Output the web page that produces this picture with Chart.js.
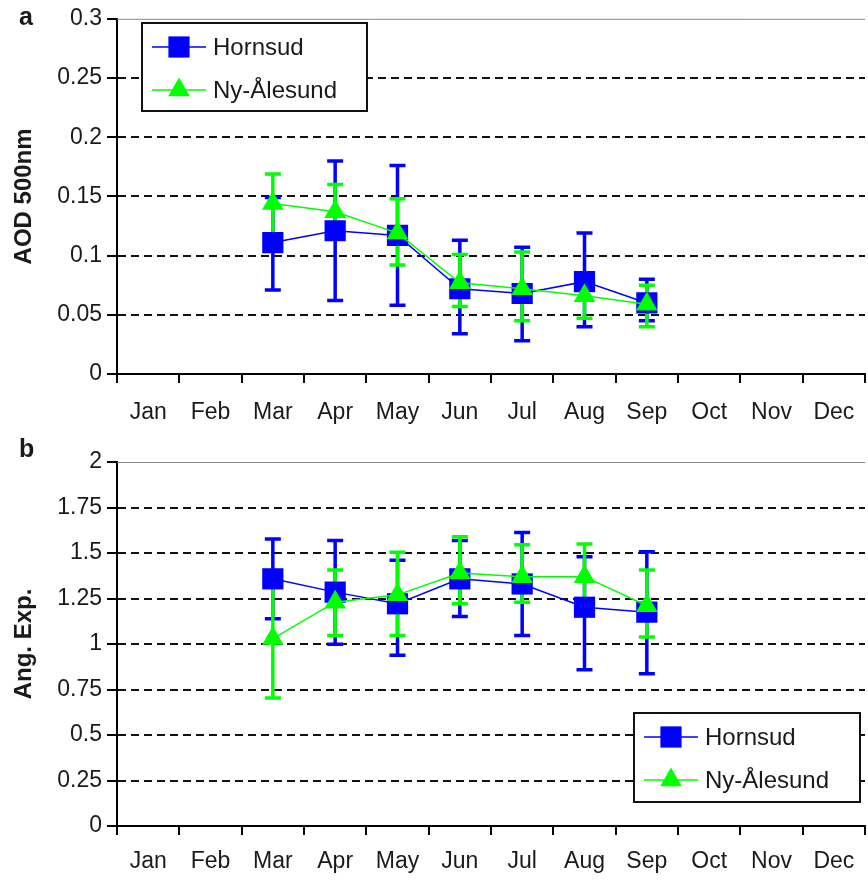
<!DOCTYPE html>
<html>
<head>
<meta charset="utf-8">
<script src="https://cdn.jsdelivr.net/npm/chart.js@4.4.1/dist/chart.umd.min.js"></script>
<style>
  html, body { margin: 0; padding: 0; background: #fff; overflow: hidden; }
  #wrap { position: relative; width: 880px; height: 883px; }
  canvas { position: absolute; left: 0; }
  #aod { top: 0; }
  #ang { top: 440px; }
  .panel { position: absolute; font: bold 25px "Liberation Sans", Arial, sans-serif; color: #1a1a1a; }
</style>
</head>
<body>
<div id="wrap">
  <canvas id="aod" width="880" height="440"></canvas>
  <canvas id="ang" width="880" height="443"></canvas>
  <div class="panel" style="left:19px; top:2px;">a</div>
  <div class="panel" style="left:19px; top:434px;">b</div>
</div>
<script>
const months = ['Jan', 'Feb', 'Mar', 'Apr', 'May', 'Jun', 'Jul', 'Aug', 'Sep', 'Oct', 'Nov', 'Dec'];
const stations = ['Hornsud', 'Ny-Ålesund'];

// panel a: AOD at 500 nm, monthly mean and error bar ends
const hornAod   = [null, null, 0.111, 0.121, 0.117, 0.072, 0.068, 0.078, 0.060, null, null, null];
const hornAodHi = [null, null, 0.149, 0.180, 0.176, 0.113, 0.107, 0.119, 0.080, null, null, null];
const hornAodLo = [null, null, 0.071, 0.062, 0.058, 0.034, 0.028, 0.040, 0.045, null, null, null];
const nyAod     = [null, null, 0.144, 0.137, 0.119, 0.077, 0.072, 0.066, 0.059, null, null, null];
const nyAodHi   = [null, null, 0.169, 0.160, 0.148, 0.101, 0.103, 0.082, 0.075, null, null, null];
const nyAodLo   = [null, null, 0.115, 0.118, 0.092, 0.057, 0.045, 0.047, 0.040, null, null, null];

// panel b: Angstrom exponent
const hornAng   = [null, null, 1.358, 1.285, 1.221, 1.358, 1.330, 1.202, 1.175, null, null, null];
const hornAngHi = [null, null, 1.577, 1.568, 1.460, 1.568, 1.613, 1.480, 1.507, null, null, null];
const hornAngLo = [null, null, 1.139, 0.998, 0.938, 1.151, 1.047, 0.859, 0.837, null, null, null];
const nyAng     = [null, null, 1.030, 1.230, 1.270, 1.390, 1.370, 1.370, 1.210, null, null, null];
const nyAngHi   = [null, null, 1.330, 1.407, 1.504, 1.589, 1.546, 1.549, 1.407, null, null, null];
const nyAngLo   = [null, null, 0.703, 1.047, 1.047, 1.221, 1.230, 1.220, 1.038, null, null, null];

const aodTicks = ['0', '0.05', '0.1', '0.15', '0.2', '0.25', '0.3'];
const angTicks = ['0', '0.25', '0.5', '0.75', '1', '1.25', '1.5', '1.75', '2'];

const FONT = '"Liberation Sans", Arial, sans-serif';
const TEXT = '#1a1a1a';
const BLUE = '#0000ff';
const GREEN = '#00ff00';

// vertical error bars with caps, drawn under the markers
const errorBars = {
  id: 'errorBars',
  beforeDatasetsDraw(chart) {
    const ctx = chart.ctx;
    const x = chart.scales.x;
    const y = chart.scales.y;
    ctx.save();
    chart.data.datasets.forEach(ds => {
      ctx.strokeStyle = ds.borderColor;
      ctx.lineWidth = 3.5;
      ds.errorLow.forEach((lo, i) => {
        const hi = ds.errorHigh[i];
        if (lo == null || hi == null) return;
        const px = x.getPixelForValue(i);
        const pLo = y.getPixelForValue(lo);
        const pHi = y.getPixelForValue(hi);
        ctx.beginPath();
        ctx.moveTo(px, pLo); ctx.lineTo(px, pHi);
        ctx.moveTo(px - 8, pLo); ctx.lineTo(px + 8, pLo);
        ctx.moveTo(px - 8, pHi); ctx.lineTo(px + 8, pHi);
        ctx.stroke();
      });
    });
    ctx.restore();
  }
};

// thin top frame and the boxed legend inside the plot
const boxLegend = {
  id: 'boxLegend',
  afterDraw(chart, args, opts) {
    const ctx = chart.ctx;
    const area = chart.chartArea;
    ctx.save();
    ctx.strokeStyle = '#888';
    ctx.lineWidth = 1;
    ctx.beginPath();
    ctx.moveTo(area.left, area.top + 0.5);
    ctx.lineTo(area.right, area.top + 0.5);
    ctx.stroke();

    const b = opts.box;
    ctx.fillStyle = '#fff';
    ctx.fillRect(b.x, b.y, b.w, b.h);
    ctx.strokeStyle = '#111';
    ctx.lineWidth = 2;
    ctx.strokeRect(b.x, b.y, b.w, b.h);
    chart.data.datasets.forEach((ds, i) => {
      const ly = b.y + 24 + i * 43;
      const x0 = b.x + 10;
      const x1 = x0 + 54;
      ctx.strokeStyle = ds.borderColor;
      ctx.lineWidth = ds.borderWidth;
      ctx.beginPath();
      ctx.moveTo(x0, ly); ctx.lineTo(x1, ly);
      ctx.stroke();
      ctx.fillStyle = ds.pointBackgroundColor;
      Chart.helpers.drawPoint(ctx, {
        pointStyle: ds.pointStyle, radius: ds.pointRadius, rotation: 0, borderWidth: 0
      }, (x0 + x1) / 2, ly);
      ctx.fillStyle = TEXT;
      ctx.font = '24px ' + FONT;
      ctx.textAlign = 'left';
      ctx.textBaseline = 'middle';
      ctx.fillText(ds.label, x1 + 7, ly + 1);
    });
    ctx.restore();
  }
};

function makeDatasets(h, hHi, hLo, n, nHi, nLo) {
  return [{
    label: stations[0],
    data: h, errorHigh: hHi, errorLow: hLo,
    borderColor: BLUE, borderWidth: 1.5,
    pointStyle: 'rect', pointRadius: 15,
    pointBackgroundColor: BLUE, pointBorderWidth: 0,
    order: 1
  }, {
    label: stations[1],
    data: n, errorHigh: nHi, errorLow: nLo,
    borderColor: GREEN, borderWidth: 1.5,
    pointStyle: 'triangle', pointRadius: 12.5,
    pointBackgroundColor: GREEN, pointBorderWidth: 0,
    order: 0
  }];
}

function makeOptions(max, step, tickLabels, title, box, topPad, xHeight, xPad) {
  return {
    responsive: false,
    animation: false,
    events: [],
    layout: { padding: { top: topPad, right: 4, left: 0, bottom: 0 } },
    plugins: {
      legend: { display: false },
      tooltip: { enabled: false },
      boxLegend: { box: box }
    },
    scales: {
      x: {
        type: 'category',
        offset: true,
        afterFit(s) { s.height = xHeight; },
        grid: {
          offset: true, drawOnChartArea: false, drawTicks: true,
          tickLength: 9, color: '#000', lineWidth: 2
        },
        border: { color: '#000', width: 2 },
        ticks: {
          color: TEXT, padding: xPad, maxRotation: 0, autoSkip: false,
          font: { family: FONT, size: 23 }
        }
      },
      y: {
        min: 0, max: max,
        afterFit(s) { s.width = 117; },
        grid: {
          color: c => (c.tick && (c.tick.value === 0 || c.tick.value === max)) ? 'rgba(0,0,0,0)' : '#111',
          lineWidth: 2, drawTicks: true, tickLength: 10,
          tickColor: '#000', tickWidth: 2, tickBorderDash: []
        },
        border: { color: '#000', width: 2, dash: [8, 5] },
        ticks: {
          stepSize: step, color: TEXT, padding: 5,
          font: { family: FONT, size: 23 },
          callback: (v, i) => tickLabels[i]
        },
        title: {
          display: true, text: title, color: TEXT,
          font: { family: FONT, size: 24, weight: 'bold' },
          padding: { top: 10, bottom: 0 }
        }
      }
    }
  };
}

new Chart(document.getElementById('aod'), {
  type: 'line',
  data: { labels: months, datasets: makeDatasets(hornAod, hornAodHi, hornAodLo, nyAod, nyAodHi, nyAodLo) },
  options: makeOptions(0.3, 0.05, aodTicks, 'AOD 500nm', { x: 142, y: 23, w: 225, h: 88 }, 10, 66, 16),
  plugins: [errorBars, boxLegend]
});

new Chart(document.getElementById('ang'), {
  type: 'line',
  data: { labels: months, datasets: makeDatasets(hornAng, hornAngHi, hornAngLo, nyAng, nyAngHi, nyAngLo) },
  options: makeOptions(2, 0.25, angTicks, 'Ang. Exp.', { x: 634, y: 273, w: 226, h: 89 }, 22, 57, 13),
  plugins: [errorBars, boxLegend]
});
</script>
</body>
</html>
